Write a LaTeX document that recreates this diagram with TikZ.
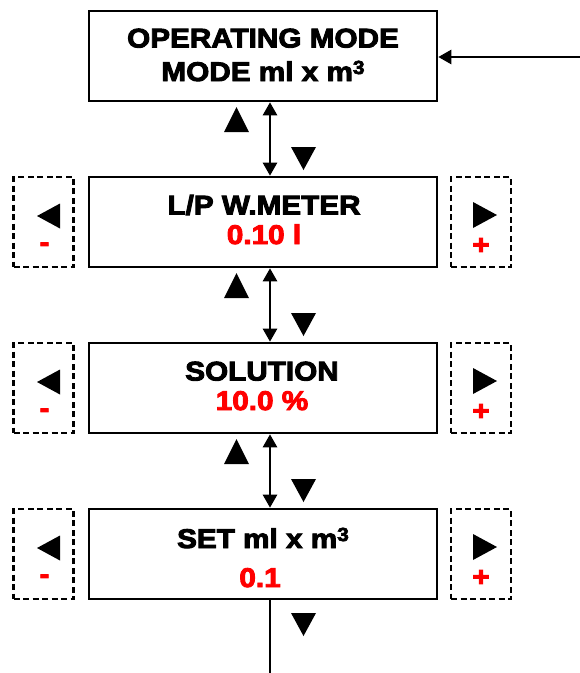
\documentclass[tikz,border=0pt]{standalone}
\usepackage{fontspec}
\newfontfamily\bk{Liberation Sans Bold}[FakeStretch=1.1,FakeBold=3.5]
\usetikzlibrary{arrows.meta}
\definecolor{myred}{RGB}{255,0,0}
\newcommand{\cubed}{\raisebox{7pt}{\fontsize{19}{19}\selectfont 3}}
\begin{document}
\begin{tikzpicture}[x=1pt,y=-1pt,
  mainbox/.style={draw,line width=2.6pt,minimum width=348pt,minimum height=90pt,inner sep=0pt},
  sidebox/.style={draw,dash pattern=on 6pt off 3.5pt,line width=2.2pt,minimum width=60pt,minimum height=90pt,inner sep=0pt},
  lbl/.style={font=\bk\fontsize{27}{27}\selectfont,inner sep=0pt,anchor=base},
  redlbl/.style={lbl,text=myred},
  conn/.style={line width=2.6pt,{Triangle[length=13pt,width=14pt]}-{Triangle[length=13pt,width=14pt]}},
  tri/.style={fill=black}
]
\useasboundingbox (0,0) rectangle (580,673);

% main boxes
\node[mainbox] (b1) at (263,56) {};
\node[mainbox] (b2) at (263,222) {};
\node[mainbox] (b3) at (263,388) {};
\node[mainbox] (b4) at (263,554) {};

% side boxes
\foreach \n/\y in {2/222,3/388,4/554}{
  \node[sidebox] (l\n) at (43.5,\y) {};
  \node[sidebox] (r\n) at (481,\y) {};
  \fill[tri] (37,\y-6) -- (60,\y-18.5) -- (60,\y+6.5) -- cycle;
  \fill[tri] (497,\y-7) -- (473,\y-20) -- (473,\y+6) -- cycle;
  \node[redlbl,anchor=center] (m\n) at (44.5,\y+25) {-};
  \node[redlbl,anchor=center] (p\n) at (481,\y+24) {+};
}

% texts
\node[lbl] (t1a) at (263,47.5) {OPERATING MODE};
\node[lbl] (t1b) at (263,81) {MODE ml x m\cubed};
\node[lbl] (t2a) at (264,214.5) {L/P W.METER};
\node[redlbl] (t2b) at (264,244) {0.10 l};
\node[lbl] (t3a) at (262,380.5) {SOLUTION};
\node[redlbl] (t3b) at (262,410) {10.0 \%};
\node[lbl] (t4a) at (263,548) {SET ml x m\cubed};
\node[redlbl] (t4b) at (260,587) {0.1};

% connectors
\draw[conn] (b1.south -| 270,0) -- (b2.north -| 270,0);
\draw[conn] (b2.south -| 270,0) -- (b3.north -| 270,0);
\draw[conn] (b3.south -| 270,0) -- (b4.north -| 270,0);
\coordinate (bot) at (270,673);
\coordinate (inR) at (580,57);
\draw[line width=2.6pt] (b4.south -| 270,0) -- (bot);
\draw[line width=2.6pt,-{Triangle[length=13pt,width=14pt]}] (inR) -- (b1.east |- inR);

% up / down triangles
\foreach \yb in {101,267,433}{
  \fill[tri] (224,\yb+31) -- (249,\yb+31) -- (236.5,\yb+6) -- cycle;
}
\foreach \yt in {177,343,509,643}{
  \fill[tri] (291,\yt-30) -- (316,\yt-30) -- (303.5,\yt-7) -- cycle;
}
\end{tikzpicture}
\end{document}
